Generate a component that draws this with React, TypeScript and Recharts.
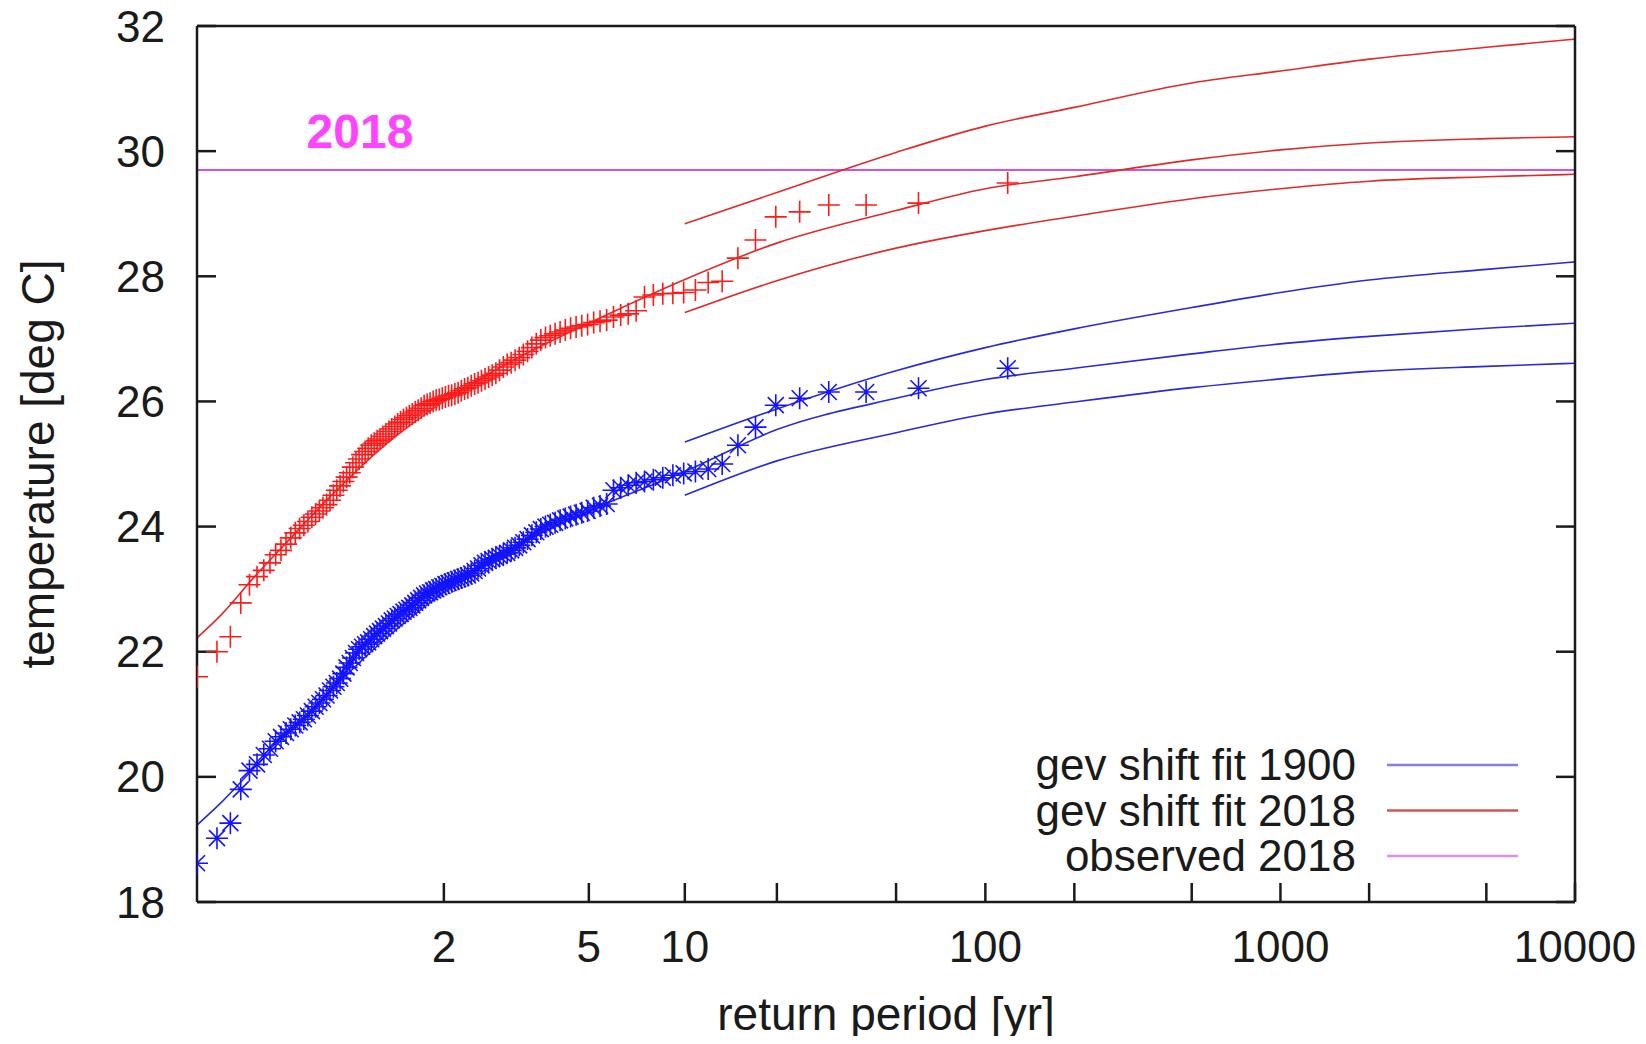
import React from "react";
import {
  ComposedChart,
  Line,
  Scatter,
  XAxis,
  YAxis,
  ReferenceLine,
  Legend,
} from "recharts";

// ---------- data ----------
// return periods (yr) of the ranked observations (rank 1 = warmest)
const observedReturnPeriods = [
  119, 59.5, 39.67, 29.75, 23.8, 19.83, 17, 14.88, 13.22, 11.9,
  10.82, 9.917, 9.154, 8.5, 7.933, 7.438, 7, 6.611, 6.263, 5.95,
  5.667, 5.409, 5.174, 4.958, 4.76, 4.577, 4.407, 4.25, 4.103, 3.967,
  3.839, 3.719, 3.606, 3.5, 3.4, 3.306, 3.216, 3.132, 3.051, 2.975,
  2.902, 2.833, 2.767, 2.705, 2.644, 2.587, 2.532, 2.479, 2.429, 2.38,
  2.333, 2.288, 2.245, 2.204, 2.164, 2.125, 2.088, 2.052, 2.017, 1.983,
  1.951, 1.919, 1.889, 1.859, 1.831, 1.803, 1.776, 1.75, 1.725, 1.7,
  1.676, 1.653, 1.63, 1.608, 1.587, 1.566, 1.545, 1.526, 1.506, 1.4875,
  1.469, 1.451, 1.434, 1.417, 1.4, 1.3837, 1.3678, 1.3523, 1.3371, 1.3222,
  1.3077, 1.2935, 1.2796, 1.266, 1.2526, 1.2396, 1.2268, 1.2143, 1.202, 1.19,
  1.1782, 1.1667, 1.1553, 1.1442, 1.1333, 1.1226, 1.1121, 1.1019, 1.0917, 1.0818,
  1.0721, 1.0625, 1.0531, 1.0439, 1.0348, 1.0259, 1.0171, 1.0085,
];

// observations shifted to the 2018 climate (red +)
const observed2018Climate = [
  29.49, 29.17, 29.14, 29.14, 29.03, 28.95, 28.58, 28.29, 27.92, 27.9,
  27.78, 27.74, 27.73, 27.72, 27.7, 27.67, 27.45, 27.4, 27.38, 27.35,
  27.3, 27.28, 27.26, 27.23, 27.21, 27.19, 27.17, 27.14, 27.11, 27.08,
  27.05, 27.02, 26.98, 26.92, 26.86, 26.8, 26.75, 26.7, 26.66, 26.62,
  26.59, 26.55, 26.5, 26.45, 26.42, 26.39, 26.36, 26.33, 26.3, 26.28,
  26.25, 26.22, 26.2, 26.17, 26.14, 26.12, 26.1, 26.09, 26.07, 26.05,
  26.03, 26.02, 26.0, 25.97, 25.95, 25.93, 25.89, 25.86, 25.83, 25.8,
  25.77, 25.74, 25.71, 25.67, 25.64, 25.6, 25.56, 25.52, 25.48, 25.44,
  25.4, 25.37, 25.33, 25.3, 25.25, 25.2, 25.15, 25.08, 25.02, 24.95,
  24.86, 24.79, 24.72, 24.65, 24.58, 24.5, 24.42, 24.35, 24.3, 24.25,
  24.2, 24.15, 24.08, 24.02, 23.97, 23.9, 23.82, 23.72, 23.62, 23.55,
  23.42, 23.3, 23.2, 23.07, 22.78, 22.24, 22.0, 21.6,
];

// observations shifted to the 1900 climate (blue *)
const observed1900Climate = [
  26.53, 26.21, 26.15, 26.15, 26.05, 25.94, 25.59, 25.3, 25.0, 24.92,
  24.88, 24.85, 24.82, 24.78, 24.75, 24.72, 24.7, 24.66, 24.62, 24.58,
  24.36, 24.33, 24.3, 24.25, 24.22, 24.19, 24.16, 24.13, 24.1, 24.06,
  24.03, 24.0, 23.96, 23.91, 23.86, 23.8, 23.75, 23.7, 23.66, 23.62,
  23.58, 23.56, 23.53, 23.5, 23.48, 23.45, 23.42, 23.38, 23.33, 23.29,
  23.25, 23.22, 23.2, 23.18, 23.16, 23.14, 23.12, 23.1, 23.08, 23.05,
  23.03, 23.0, 22.98, 22.95, 22.93, 22.9, 22.86, 22.82, 22.78, 22.74,
  22.7, 22.67, 22.64, 22.6, 22.57, 22.53, 22.5, 22.45, 22.41, 22.37,
  22.33, 22.29, 22.25, 22.2, 22.15, 22.12, 22.08, 22.04, 21.98, 21.9,
  21.82, 21.75, 21.65, 21.57, 21.5, 21.44, 21.38, 21.3, 21.24, 21.18,
  21.12, 21.05, 20.98, 20.92, 20.87, 20.82, 20.76, 20.7, 20.64, 20.57,
  20.45, 20.35, 20.2, 20.1, 19.8, 19.26, 19.02, 18.62,
];

// GEV shift fits (central estimate)
const fitReturnPeriods = [
  1.0085, 1.02, 1.05, 1.1, 1.2, 1.5, 2, 3, 5, 10,
  20, 50, 100, 200, 500, 1000, 2000, 5000, 10000,
];
const fit2018Central = [
  22.22, 22.6, 23.2, 23.72, 24.35, 25.3, 26.0, 26.65, 27.25, 27.95,
  28.53, 29.05, 29.4, 29.59, 29.86, 30.02, 30.13, 30.2, 30.23,
];
const fit1900Central = [
  19.23, 19.6, 20.15, 20.65, 21.25, 22.2, 22.95, 23.65, 24.25, 24.88,
  25.55, 26.05, 26.35, 26.53, 26.76, 26.92, 27.04, 27.17, 27.25,
];

// confidence bounds of the fits
const boundReturnPeriods = [10, 20, 50, 100, 200, 500, 1000, 2000, 5000, 10000];
const fit2018Upper = [28.84, 29.34, 29.98, 30.4, 30.7, 31.09, 31.28, 31.47, 31.66, 31.79];
const fit2018Lower = [27.42, 27.93, 28.45, 28.73, 28.96, 29.24, 29.4, 29.52, 29.59, 29.63];
const fit1900Upper = [25.35, 25.88, 26.49, 26.86, 27.16, 27.5, 27.74, 27.94, 28.11, 28.23];
const fit1900Lower = [24.5, 25.05, 25.5, 25.8, 25.99, 26.22, 26.36, 26.48, 26.56, 26.61];

const observed2018Value = 29.7;
const observedYearLabel = "2018";

const xTickPeriods = [2, 5, 10, 20, 50, 100, 200, 500, 1000, 2000, 5000, 10000];
const xTickLabels = ["2", "5", "10", "", "", "100", "", "", "1000", "", "", "10000"];
const yTicks = [18, 20, 22, 24, 26, 28, 30, 32];

const xAxisTitle = "return period [yr]";
const yAxisTitle = "temperature [deg C]";

const BLUE_LINE = "#2a2ad8";
const RED_LINE = "#e02a2a";
const MAGENTA = "#cc55d8";
const BLUE_MARK = "#1414ff";
const RED_MARK = "#ff1a1a";

const legendItems = [
  { label: "gev shift fit 1900", color: "#7f7ff0" },
  { label: "gev shift fit 2018", color: "#c85a5a" },
  { label: "observed 2018", color: "#dc8fe6" },
];

// ---------- helpers ----------
const FONT = "'Liberation Sans', Arial, Helvetica, sans-serif";
const INK = "#1a1a1a";
const CHART_W = 1630;
const CHART_H = 1044;

// Gumbel reduced variate: the x scale of the return-period plot
const gumbel = (T: number) => -Math.log(-Math.log(1 - 1 / T));
const toPoints = (periods: number[], temps: number[]) =>
  periods.map((T, i) => ({ g: gumbel(T), t: temps[i] }));

const xDomain: [number, number] = [
  gumbel(Math.min(...observedReturnPeriods)),
  gumbel(10000),
];
const xTicks = xTickPeriods.map(gumbel);
const fmtX = (v: number) => {
  const i = xTicks.findIndex((t) => Math.abs(t - v) < 1e-6);
  return i >= 0 ? xTickLabels[i] : "";
};

const scatter2018 = toPoints(observedReturnPeriods, observed2018Climate);
const scatter1900 = toPoints(observedReturnPeriods, observed1900Climate);
const line2018 = toPoints(fitReturnPeriods, fit2018Central);
const line1900 = toPoints(fitReturnPeriods, fit1900Central);
const line2018Up = toPoints(boundReturnPeriods, fit2018Upper);
const line2018Lo = toPoints(boundReturnPeriods, fit2018Lower);
const line1900Up = toPoints(boundReturnPeriods, fit1900Upper);
const line1900Lo = toPoints(boundReturnPeriods, fit1900Lower);

// ---------- shapes ----------
const PlusMarker = (props: any) => {
  const { cx, cy } = props;
  if (cx == null || cy == null) return null;
  const s = 11;
  return (
    <path
      d={`M${cx - s},${cy}H${cx + s}M${cx},${cy - s}V${cy + s}`}
      stroke={RED_MARK}
      strokeWidth={1.6}
      fill="none"
    />
  );
};

const StarMarker = (props: any) => {
  const { cx, cy } = props;
  if (cx == null || cy == null) return null;
  const s = 11;
  const d = 8;
  return (
    <path
      d={`M${cx - s},${cy}H${cx + s}M${cx},${cy - s}V${cy + s}M${cx - d},${cy - d}L${cx + d},${cy + d}M${cx - d},${cy + d}L${cx + d},${cy - d}`}
      stroke={BLUE_MARK}
      strokeWidth={1.6}
      fill="none"
    />
  );
};

const YearLabel = (props: any) => {
  const { viewBox } = props;
  if (!viewBox) return null;
  return (
    <text
      x={viewBox.x + 163}
      y={viewBox.y - 22}
      textAnchor="middle"
      fontFamily={FONT}
      fontSize={48}
      fontWeight="bold"
      fill="#ff44ff"
    >
      {observedYearLabel}
    </text>
  );
};

const YTitle = (props: any) => {
  const { viewBox } = props;
  if (!viewBox) return null;
  const cx = 46;
  const cy = viewBox.y + viewBox.height / 2;
  return (
    <text
      x={cx}
      y={cy}
      transform={`rotate(-90 ${cx} ${cy})`}
      textAnchor="middle"
      fontFamily={FONT}
      fontSize={46}
      fill={INK}
    >
      {yAxisTitle}
    </text>
  );
};

const LegendContent = () => (
  <svg
    width={CHART_W}
    height={CHART_H}
    style={{ position: "absolute", left: 0, top: 0, pointerEvents: "none" }}
  >
    {legendItems.map((item, i) => {
      const y = 765 + i * 45.5;
      return (
        <g key={item.label}>
          <text
            x={1348}
            y={y + 15}
            textAnchor="end"
            fontFamily={FONT}
            fontSize={44}
            fill={INK}
          >
            {item.label}
          </text>
          <line x1={1379} x2={1510} y1={y} y2={y} stroke={item.color} strokeWidth={2.5} />
        </g>
      );
    })}
  </svg>
);

const axisLineStyle = { stroke: INK, strokeWidth: 2.5 };
const tickStyle = { fill: INK, fontSize: 44, fontFamily: FONT };

export default function App() {
  return (
    <div
      style={{
        position: "relative",
        width: CHART_W,
        height: CHART_H,
        marginTop: -8,
        marginBottom: -8,
      }}
    >
      <ComposedChart
        width={CHART_W}
        height={CHART_H}
        margin={{ top: 24, right: 61, bottom: 12, left: 89 }}
      >
        <XAxis
          xAxisId="b"
          type="number"
          dataKey="g"
          domain={xDomain}
          allowDataOverflow
          ticks={xTicks}
          interval={0}
          tickFormatter={fmtX}
          tickSize={-19}
          tickMargin={48}
          height={130}
          axisLine={axisLineStyle}
          tickLine={axisLineStyle}
          tick={tickStyle}
          label={{
            value: xAxisTitle,
            position: "insideBottom",
            offset: 2,
            fontSize: 46,
            fontFamily: FONT,
            fill: INK,
          }}
        />
        <XAxis
          xAxisId="t"
          orientation="top"
          type="number"
          domain={xDomain}
          allowDataOverflow
          ticks={xTicks}
          interval={0}
          tickFormatter={() => ""}
          tickSize={-19}
          height={2}
          axisLine={axisLineStyle}
          tickLine={axisLineStyle}
          tick={tickStyle}
        />
        <YAxis
          yAxisId="l"
          type="number"
          dataKey="t"
          domain={[18, 32]}
          allowDataOverflow
          ticks={yTicks}
          interval={0}
          tickSize={-19}
          tickMargin={51}
          width={100}
          axisLine={axisLineStyle}
          tickLine={axisLineStyle}
          tick={tickStyle}
          label={<YTitle />}
        />
        <YAxis
          yAxisId="r"
          orientation="right"
          type="number"
          domain={[18, 32]}
          allowDataOverflow
          ticks={yTicks}
          interval={0}
          tickFormatter={() => ""}
          tickSize={-19}
          width={2}
          axisLine={axisLineStyle}
          tickLine={axisLineStyle}
          tick={tickStyle}
        />

        <ReferenceLine
          xAxisId="b"
          yAxisId="l"
          y={observed2018Value}
          stroke={MAGENTA}
          strokeWidth={2}
          label={<YearLabel />}
        />

        <Scatter
          xAxisId="b"
          yAxisId="l"
          name="observed 1900"
          data={scatter1900}
          dataKey="t"
          shape={<StarMarker />}
          legendType="none"
          isAnimationActive={false}
        />
        <Scatter
          xAxisId="b"
          yAxisId="l"
          name="observed 2018 climate"
          data={scatter2018}
          dataKey="t"
          shape={<PlusMarker />}
          legendType="none"
          isAnimationActive={false}
        />

        {[line1900, line1900Up, line1900Lo].map((d, i) => (
          <Line
            key={`b${i}`}
            xAxisId="b"
            yAxisId="l"
            data={d}
            dataKey="t"
            type="monotone"
            stroke={BLUE_LINE}
            strokeWidth={1.6}
            dot={false}
            activeDot={false}
            isAnimationActive={false}
          />
        ))}
        {[line2018, line2018Up, line2018Lo].map((d, i) => (
          <Line
            key={`r${i}`}
            xAxisId="b"
            yAxisId="l"
            data={d}
            dataKey="t"
            type="monotone"
            stroke={RED_LINE}
            strokeWidth={1.6}
            dot={false}
            activeDot={false}
            isAnimationActive={false}
          />
        ))}

        <Legend
          layout="vertical"
          align="center"
          verticalAlign="middle"
          content={<LegendContent />}
          wrapperStyle={{
            position: "absolute",
            left: 0,
            top: 0,
            width: CHART_W,
            height: CHART_H,
            margin: 0,
            padding: 0,
          }}
        />
      </ComposedChart>
    </div>
  );
}
